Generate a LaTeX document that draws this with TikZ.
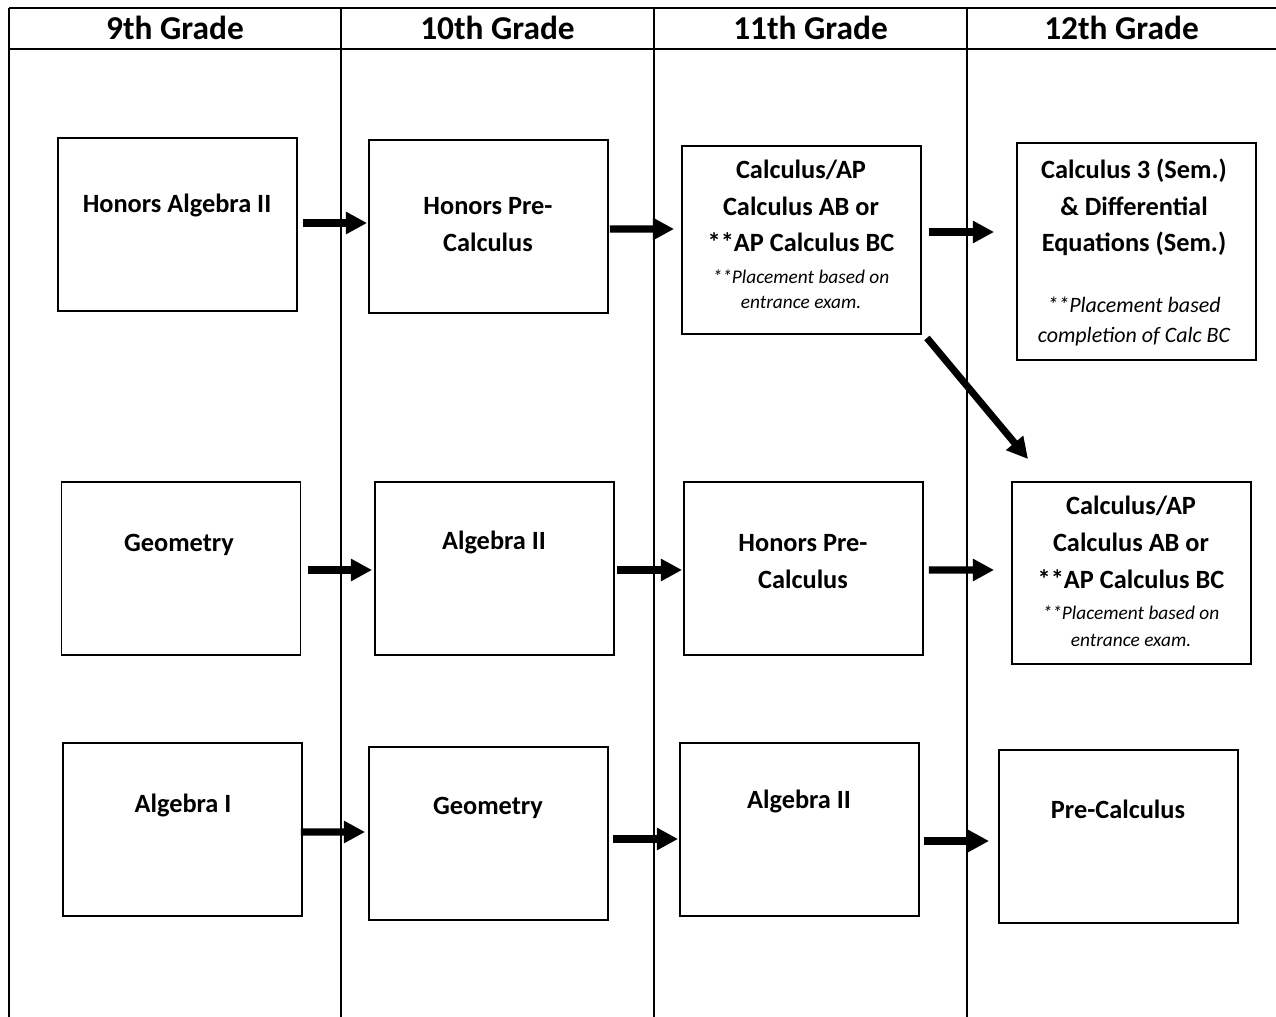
\documentclass[tikz,border=0pt]{standalone}
\usepackage{fontspec}
\setmainfont{Carlito}
\usetikzlibrary{arrows.meta,calc}

\tikzset{
  course/.style={draw, line width=1.1pt, fill=white, inner sep=0pt,
    minimum width=4.78cm, minimum height=3.46cm},
  ctext/.style={align=center, inner sep=0pt, anchor=base,
    font=\bfseries\fontsize{15}{20.8}\selectfont},
  note/.style={align=center, inner sep=0pt, anchor=base,
    font=\itshape\fontsize{11}{13.7}\selectfont},
  grade/.style={inner sep=0pt, anchor=base, font=\bfseries\fontsize{19}{23}\selectfont},
  flow/.style={line width=4pt, -{Triangle[length=12pt,width=12pt]}},
}

\begin{document}
\begin{tikzpicture}[x=0.02cm, y=-0.02cm]
        \useasboundingbox (0,0) rectangle (1276,1017);

        % Grid
        \draw[line width=1.2pt] (9,8) -- (1276,8);
        \draw[line width=1.2pt] (9,49) -- (1276,49);
        \draw[line width=1.2pt] (9,8) -- (9,1017);
        \foreach \x in {341,654,967} \draw[line width=0.8pt] (\x,8) -- (\x,1017);

        % Grades
        \node[grade] (g9) at (175,39.5) {9th Grade};
        \node[grade] (g10) at (497.5,39.5) {10th Grade};
        \node[grade] (g11) at (810.5,39.5) {11th Grade};
        \node[grade] (g12) at (1121.5,39.5) {12th Grade};

        % Fila 1 (base = last line)
        \node[course] (ha2) at (177.5,224.5) {};
        \node[course] (hpc) at (488.5,226.5) {};
        \node[course, minimum height=3.76cm] (c11) at (801.5,240) {};
        \node[course, minimum height=4.34cm] (c3) at (1136.5,251.5) {};
        \node[ctext] (ha2-t) at (177,213) {Honors Algebra II};
        \node[ctext] (hpc-t) at (488,251.5) {Honors Pre-\\Calculus};
        \node[ctext] (c11-t) at (801,252) {Calculus/AP\\Calculus AB or\\**AP Calculus BC};
        \node[note] (c11-n) at (801,308) {**Placement based on\\entrance exam.};
        \node[ctext] (c3-t) at (1134,252) {Calculus 3 (Sem.)\\\& Differential\\Equations (Sem.)};
        \node[note, font=\itshape\fontsize{12.5}{17}\selectfont] (c3-n) at (1134,342)
          {**Placement based\\completion of Calc BC};

        % Fila 2
        \node[course] (geo1) at (181,568.5) {};
        \node[course] (alg2) at (494.5,568.5) {};
        \node[course] (hpc2) at (803.5,568.5) {};
        \node[course, minimum height=3.64cm] (c12) at (1131.5,573) {};
        \node[ctext] (geo1-t) at (179,551) {Geometry};
        \node[ctext] (alg2-t) at (494,549) {Algebra II};
        \node[ctext] (hpc2-t) at (803,588.5) {Honors Pre-\\Calculus};
        \node[ctext] (c12-t) at (1131,588) {Calculus/AP\\Calculus AB or\\**AP Calculus BC};
        \node[note, font=\itshape\fontsize{11}{14.8}\selectfont] (c12-n) at (1131,646)
          {**Placement based on\\entrance exam.};

        % Fila 3
        \node[course] (alg1) at (182.5,829.5) {};
        \node[course] (geo2) at (488.5,833.5) {};
        \node[course] (alg3) at (799.5,829.5) {};
        \node[course] (pc) at (1118.5,836.5) {};
        \node[ctext] (alg1-t) at (183,812) {Algebra I};
        \node[ctext] (geo2-t) at (488,814) {Geometry};
        \node[ctext] (alg3-t) at (799,808) {Algebra II};
        \node[ctext] (pc-t) at (1118,818) {Pre-Calculus};

        % Flechas
        \draw[flow] ($(ha2.east)+(5,-1.5)$) -- ($(hpc.west)+(-1,-3.5)$);
        \draw[flow] ($(hpc.east)+(1,2.5)$) -- ($(c11.west)+(-7,-11)$);
        \draw[flow] ($(c11.east)+(7,-8)$) -- ($(c3.west)+(-22,-19.5)$);
        \draw[flow] ($(c11.south east)+(5,3)$) -- ($(c12.north west)+(17,-22)$);
        \draw[flow] ($(geo1.east)+(7,1.5)$) -- ($(alg2.west)+(-2,1.5)$);
        \draw[flow] ($(alg2.east)+(2,1.5)$) -- ($(hpc2.west)+(-1,1.5)$);
        \draw[flow] ($(hpc2.east)+(5,1.5)$) -- ($(c12.west)+(-17,-3)$);
        \draw[flow] ($(alg1.east)+(-2,2.5)$) -- ($(geo2.west)+(-3,-1.5)$);
        \draw[flow] ($(geo2.east)+(4,5.5)$) -- ($(alg3.west)+(-1,9.5)$);
        \draw[flow] ($(alg3.east)+(4,11.5)$) -- ($(pc.west)+(-9,4.5)$);

\end{tikzpicture}
\end{document}
